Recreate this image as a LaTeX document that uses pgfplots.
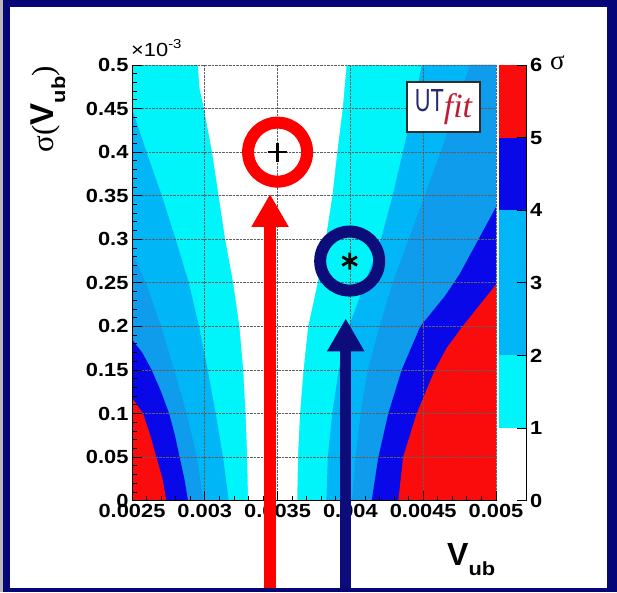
\documentclass[border=0pt]{standalone}
\usepackage{fontspec}
\setmainfont{Liberation Sans}[FakeStretch=1.15]
\newfontfamily\serif{Liberation Serif}
\newfontfamily\plainsans{Liberation Sans}
\usepackage{graphicx}
\usepackage{pgfplots}
\pgfplotsset{compat=1.18}
\usetikzlibrary{arrows.meta}
\definecolor{cyanc}{RGB}{0,245,250}
\definecolor{c23}{RGB}{0,182,246}
\definecolor{c34}{RGB}{16,156,236}
\definecolor{c45}{RGB}{8,8,232}
\definecolor{c56}{RGB}{250,12,12}
\definecolor{ringnavy}{RGB}{12,12,122}
\definecolor{framenavy}{RGB}{6,6,120}
\definecolor{utnavy}{RGB}{40,40,110}
\definecolor{utred}{RGB}{190,30,50}
\begin{document}
\begin{tikzpicture}
\path[use as bounding box] (0pt,0pt) rectangle (617pt,592pt);
\fill[framenavy] (0pt,0pt) rectangle (617pt,592pt);
\fill[gray!55] (0pt,0pt) rectangle (3pt,592pt);
\fill[white] (10pt,4pt) rectangle (607pt,585pt);

% main contour axis
\begin{axis}[at={(132pt,91.3pt)}, anchor=south west, scale only axis,
  width=364pt, height=435.7pt,
  xmin=2.5, xmax=5, ymin=0, ymax=0.5,
  axis on top,
  axis x line*=bottom, axis y line*=left,
  axis line style={black, line width=0.8pt},
  xtick={2.5,3,3.5,4,4.5,5},
  xticklabels={0.0025,0.003,0.0035,0.004,0.0045,0.005},
  ytick={0,0.05,0.1,0.15,0.2,0.25,0.3,0.35,0.4,0.45,0.5},
  yticklabels={0,0.05,0.1,0.15,0.2,0.25,0.3,0.35,0.4,0.45,0.5},
  minor x tick num=4, minor y tick num=4,
  tick align=inside, major tick length=10pt, minor tick length=5pt,
  tick style={black, line width=0.8pt},
  grid=major, major grid style={gray!75!black, densely dotted, line width=0.8pt},
  ticklabel style={font=\bfseries\fontsize{19}{19}\selectfont},
]
% level >=1 everywhere outside the white band
\addplot[fill=cyanc, draw=none, mark=none] coordinates {(2.5,0) (5,0) (5,0.5) (2.5,0.5)} -- cycle;
% white band (< 1 sigma)
\addplot[fill=white, draw=none, mark=none] coordinates {
 (2.953,0.5) (2.962,0.475) (2.994,0.45) (3.05,0.4) (3.095,0.35) (3.14,0.3) (3.195,0.25)
 (3.238,0.2) (3.264,0.15) (3.28,0.1) (3.291,0.05) (3.297,0)
 (3.635,0) (3.64,0.05) (3.654,0.1) (3.678,0.15) (3.71,0.2) (3.775,0.25) (3.83,0.3)
 (3.876,0.35) (3.91,0.4) (3.947,0.45) (3.974,0.5)} -- cycle;
% left side
\addplot[fill=c23, draw=none, mark=none] coordinates {
 (2.5,0) (3.165,0) (3.125,0.05) (3.075,0.1) (3.02,0.15) (2.96,0.2) (2.89,0.25) (2.80,0.3)
 (2.705,0.35) (2.60,0.4) (2.5,0.45)} -- cycle;
\addplot[fill=c34, draw=none, mark=none] coordinates {
 (2.5,0) (2.99,0) (2.945,0.05) (2.875,0.1) (2.79,0.15) (2.70,0.2) (2.595,0.25) (2.5,0.285)} -- cycle;
\addplot[fill=c45, draw=none, mark=none] coordinates {
 (2.5,0) (2.885,0) (2.86,0.025) (2.827,0.05) (2.795,0.075) (2.755,0.1) (2.70,0.125)
 (2.635,0.15) (2.57,0.17) (2.5,0.185)} -- cycle;
\addplot[fill=c56, draw=none, mark=none] coordinates {
 (2.5,0) (2.736,0) (2.71,0.025) (2.667,0.05) (2.625,0.075) (2.576,0.1) (2.5,0.118)} -- cycle;
% right side
\addplot[fill=c23, draw=none, mark=none] coordinates {
 (5,0) (3.835,0) (3.845,0.05) (3.875,0.1) (3.92,0.15) (3.99,0.2) (4.10,0.25) (4.21,0.3)
 (4.29,0.35) (4.36,0.4) (4.43,0.45) (4.49,0.5) (5,0.5)} -- cycle;
\addplot[fill=c34, draw=none, mark=none] coordinates {
 (5,0) (4.01,0) (4.035,0.05) (4.07,0.1) (4.12,0.15) (4.2,0.2) (4.29,0.25) (4.40,0.3)
 (4.51,0.35) (4.62,0.4) (4.72,0.45) (4.82,0.5) (5,0.5)} -- cycle;
\addplot[fill=c45, draw=none, mark=none] coordinates {
 (5,0) (4.146,0) (4.192,0.05) (4.26,0.1) (4.352,0.15) (4.48,0.2) (4.65,0.235) (4.75,0.26)
 (4.88,0.3) (5,0.337)} -- cycle;
\addplot[fill=c56, draw=none, mark=none] coordinates {
 (5,0) (4.329,0) (4.362,0.05) (4.455,0.1) (4.58,0.15) (4.66,0.175) (4.77,0.2) (5,0.248)} -- cycle;
\end{axis}

% colour scale
\begin{axis}[at={(499pt,91.3pt)}, anchor=south west, scale only axis,
  width=27.5pt, height=435.7pt,
  xmin=0, xmax=1, ymin=0, ymax=6,
  axis on top, hide x axis, axis y line*=right,
  xtick=\empty,
  ytick={0,1,2,3,4,5,6}, yticklabels={0,1,2,3,4,5,6},
  tick align=inside, major tick length=10pt,
  tick style={black, line width=0.8pt},
  axis line style={black, line width=0.8pt},
  yticklabel style={font=\bfseries\fontsize{19}{19}\selectfont},
]
\addplot[fill=cyanc, draw=none, mark=none] coordinates {(0,1) (1,1) (1,2) (0,2)} -- cycle;
\addplot[fill=c23, draw=none, mark=none] coordinates {(0,2) (1,2) (1,3) (0,3)} -- cycle;
\addplot[fill=c23, draw=none, mark=none] coordinates {(0,3) (1,3) (1,4) (0,4)} -- cycle;
\addplot[fill=c45, draw=none, mark=none] coordinates {(0,4) (1,4) (1,5) (0,5)} -- cycle;
\addplot[fill=c56, draw=none, mark=none] coordinates {(0,5) (1,5) (1,6) (0,6)} -- cycle;
\end{axis}

% logo
\node[draw=gray!35!black, line width=1.5pt, fill=white, inner sep=1pt,
  minimum width=73pt, minimum height=50pt] at (443.5pt,485pt)
  {{\color{utnavy}\plainsans\fontsize{32}{32}\selectfont\scalebox{0.68}[1]{UT}}{\color{utred}\serif\itshape\fontsize{34}{34}\selectfont\raisebox{-6pt}{fit}}};

% annotations
\begin{axis}[at={(132pt,91.3pt)}, anchor=south west, scale only axis,
  width=364pt, height=435.7pt,
  xmin=2.5, xmax=5, ymin=0, ymax=0.5, hide axis, clip=false]
\addplot[color=red, line width=11.5pt, mark=none, -{Triangle[width=35pt,length=33pt]}]
  coordinates {(3.448,-0.1002) (3.448,0.352)};
\addplot[color=ringnavy, line width=11pt, mark=none, -{Triangle[width=35pt,length=33pt]}]
  coordinates {(3.968,-0.1002) (3.968,0.2092)};
\addplot[only marks, color=red, mark=o, mark size=29.5pt, line width=12pt]
  coordinates {(3.5,0.4)};
\addplot[only marks, color=ringnavy, mark=o, mark size=29.5pt, line width=12pt]
  coordinates {(3.995,0.275)};
\addplot[only marks, color=black, mark=+, mark size=9.5pt, line width=2.6pt]
  coordinates {(3.5,0.4)};
\addplot[only marks, color=black, mark=asterisk, mark size=8.5pt, line width=2.8pt]
  coordinates {(3.995,0.275)};
\end{axis}

% titles
\node[anchor=base west, inner sep=0pt] at (131pt,535pt)
  {\fontsize{19}{19}\selectfont ×10\raisebox{8pt}{\fontsize{13}{13}\selectfont -3}};
\node[rotate=90, anchor=base east, inner sep=0pt] at (53pt,526pt)
  {{\serif\fontsize{31}{31}\selectfont σ(}{\plainsans\bfseries\fontsize{33}{33}\selectfont V}{\bfseries\fontsize{19}{19}\selectfont\raisebox{-12pt}{ub}}{\serif\fontsize{31}{31}\selectfont )}};
\node[anchor=base west, inner sep=0pt] at (447pt,27pt)
  {{\plainsans\bfseries\fontsize{32}{32}\selectfont V}{\bfseries\fontsize{19}{19}\selectfont\raisebox{-10pt}{ub}}};
\node[anchor=base west, inner sep=0pt] at (550pt,522pt)
  {\serif\fontsize{27}{27}\selectfont σ};
\end{tikzpicture}
\end{document}
